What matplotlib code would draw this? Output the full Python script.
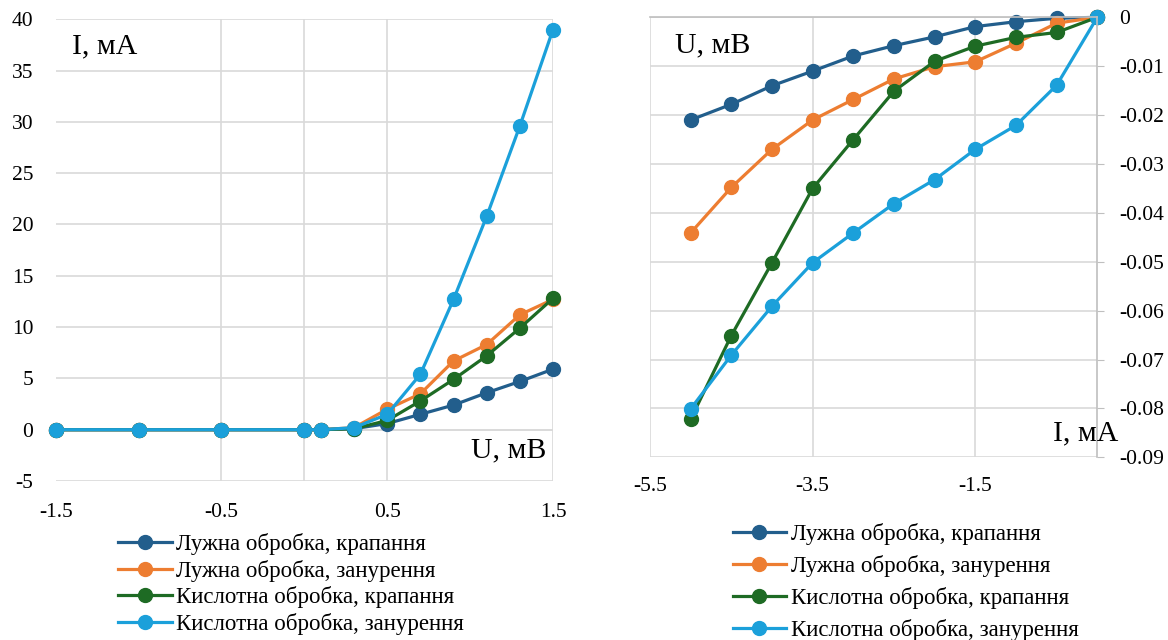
import matplotlib
matplotlib.use('Agg')
from matplotlib import pyplot as plt

plt.rcParams['font.family'] = ['Liberation Serif', 'DejaVu Serif']
plt.rcParams['axes.unicode_minus'] = False

labels = ['Лужна обробка, крапання', 'Лужна обробка, занурення',
          'Кислотна обробка, крапання', 'Кислотна обробка, занурення']
colors = ['#225E8C', '#ED7D31', '#1E6B24', '#1BA0DA']

# left chart: I(U)
u_left = [-1.5, -1.0, -0.5, 0.0, 0.1, 0.3, 0.5, 0.7, 0.9, 1.1, 1.3, 1.5]
i_alk_drop = [0, 0, 0, 0, 0, 0.1, 0.6, 1.5, 2.4, 3.6, 4.7, 5.9]
i_alk_dip = [0, 0, 0, 0, 0, 0.2, 2.0, 3.5, 6.7, 8.3, 11.2, 12.7]
i_acid_drop = [0, 0, 0, 0, 0, 0.1, 0.9, 2.8, 4.9, 7.2, 9.9, 12.8]
i_acid_dip = [0, 0, 0, 0, 0, 0.2, 1.5, 5.4, 12.7, 20.8, 29.6, 39.0]

# right chart: U(I)
i_right = [-5.0, -4.5, -4.0, -3.5, -3.0, -2.5, -2.0, -1.5, -1.0, -0.5, 0.0]
u_alk_drop = [-0.0210, -0.0178, -0.0140, -0.0110, -0.0079, -0.0058, -0.0040, -0.0019, -0.0009, -0.0002, 0]
u_alk_dip = [-0.0441, -0.0348, -0.0270, -0.0210, -0.0168, -0.0126, -0.0101, -0.0091, -0.0053, -0.0012, 0]
u_acid_drop = [-0.0822, -0.0651, -0.0502, -0.0350, -0.0250, -0.0151, -0.0090, -0.0059, -0.0041, -0.0031, 0]
u_acid_dip = [-0.0801, -0.0691, -0.0591, -0.0502, -0.0441, -0.0381, -0.0332, -0.0270, -0.0221, -0.0139, 0]

grid_c = '#D9D9D9'
tick_fs = 15.5
leg_fs = 16.5
fig = plt.figure(figsize=(11.68, 6.4), dpi=100)

# ---------------- left -----------------
ax1 = fig.add_axes([55.7 / 1168, 159 / 640, 497.3 / 1168, 461.7 / 640])
for y, c, lab in zip([i_alk_drop, i_alk_dip, i_acid_drop, i_acid_dip], colors, labels):
    ax1.plot(u_left, y, color=c, lw=2.3, marker='o', ms=10, label=lab, clip_on=False)
ax1.set_xlim(-1.5, 1.5)
ax1.set_ylim(-5, 40)
ax1.set_xticks([-1.5, -0.5, 0.5, 1.5])
ax1.set_yticks(range(-5, 41, 5))
ax1.grid(True, color=grid_c, lw=1.2, zorder=0)
ax1.xaxis.get_gridlines()[0].set_visible(False)
ax1.axhline(0, color=grid_c, lw=1.2, zorder=0)
ax1.axvline(0, color=grid_c, lw=1.2, zorder=0)
for s in ax1.spines.values():
    s.set_visible(False)
ax1.tick_params(length=0, labelsize=tick_fs, pad=16)
ax1.set_axisbelow(True)
ax1.text(0.033, 0.942, 'I, мА', transform=ax1.transAxes, fontsize=21.5, va='center')
ax1.text(0.986, 0.067, 'U, мВ', transform=ax1.transAxes, fontsize=21.5, ha='right', va='center')
ax1.legend(loc='upper left', bbox_to_anchor=(118 / 1168, 1 - 533 / 640), bbox_transform=fig.transFigure,
           frameon=False, fontsize=leg_fs, handlelength=2.36, handletextpad=0.17, labelspacing=0.2,
           borderaxespad=0, borderpad=0)

# ---------------- right -----------------
ax2 = fig.add_axes([650 / 1168, 182.7 / 640, 447.3 / 1168, 440 / 640])
for y, c, lab in zip([u_alk_drop, u_alk_dip, u_acid_drop, u_acid_dip], colors, labels):
    ax2.plot(i_right, y, color=c, lw=2.3, marker='o', ms=10, label=lab, clip_on=False)
ax2.set_xlim(-5.5, 0)
ax2.set_ylim(-0.09, 0)
ax2.set_xticks([-5.5, -3.5, -1.5])
ax2.set_yticks([i / 100 for i in range(-9, 1)])
ax2.set_yticklabels(['0' if i == 0 else '-0.0%d' % -i for i in range(-9, 1)])
ax2.grid(True, color=grid_c, lw=1.2, zorder=0)
ax2.set_axisbelow(True)
ax2.yaxis.tick_right()
for name, s in ax2.spines.items():
    if name in ('right', 'top'):
        s.set_color('#BFBFBF')
        s.set_linewidth(1.2)
    else:
        s.set_visible(False)
ax2.tick_params(axis='y', length=5, color='#BFBFBF', labelsize=tick_fs, pad=10.5)
ax2.tick_params(axis='x', length=0, labelsize=tick_fs, pad=14)
ax2.text(0.055, 0.937, 'U, мВ', transform=ax2.transAxes, fontsize=21.5, va='center')
ax2.text(1.046, 0.055, 'I, мА', transform=ax2.transAxes, fontsize=21.5, ha='right', va='center')
ax2.legend(loc='upper left', bbox_to_anchor=(733 / 1168, 1 - 523 / 640), bbox_transform=fig.transFigure,
           frameon=False, fontsize=leg_fs, handlelength=2.3, handletextpad=0.22, labelspacing=0.43,
           borderaxespad=0, borderpad=0)

fig.savefig('out.png', dpi=100)
